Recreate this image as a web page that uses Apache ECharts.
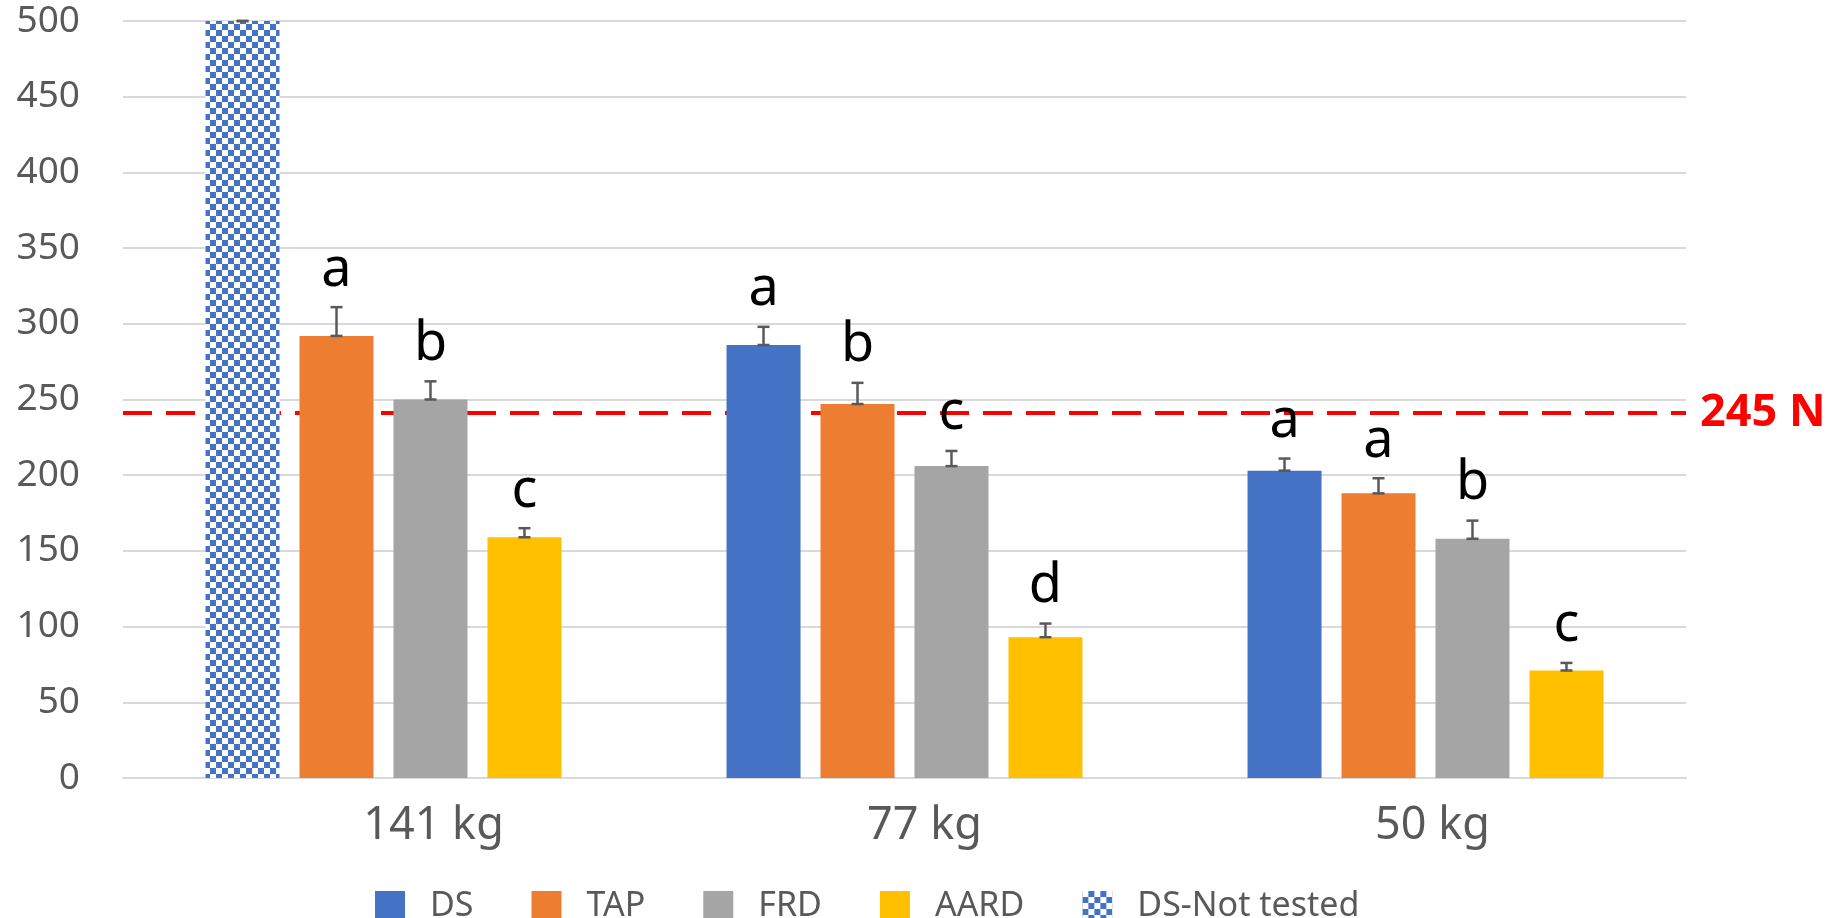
<!DOCTYPE html>
<html>
<head>
<meta charset="utf-8">
<script src="https://cdn.jsdelivr.net/npm/echarts@6/dist/echarts.min.js"></script>
<style>
  html, body { margin: 0; padding: 0; background: #ffffff; }
  #chart { width: 1831px; height: 918px; }
</style>
</head>
<body>
<div id="chart"></div>
<script>
// ---- data ----
const categories = ['141 kg', '77 kg', '50 kg'];
const yTicks = { min: 0, max: 500, interval: 50 };

const dsValues   = ['-', 286, 203];
const tapValues  = [292, 247, 188];
const frdValues  = [250, 206, 158];
const aardValues = [159, 93, 71];
const dsNotTestedValues = [500, '-', '-'];

const dsErr   = [null, 12, 8];
const tapErr  = [19, 14, 10];
const frdErr  = [12, 10, 12];
const aardErr = [6, 9, 5];
const dsNotTestedErr = [0, null, null];

const dsLetters   = ['', 'a', 'a'];
const tapLetters  = ['a', 'b', 'a'];
const frdLetters  = ['b', 'c', 'b'];
const aardLetters = ['c', 'd', 'c'];

const thresholdValue = 241;
const thresholdLabel = '245 N';

// ---- styling ----
const FONT = 'Noto Sans';
const BAR_W = 74;
const BAR_GAP = 0.27;
const PITCH = BAR_W * (1 + BAR_GAP);
const colors = { DS: '#4472C4', TAP: '#ED7D31', FRD: '#A5A5A5', AARD: '#FFC000' };
const catLabelShift = [100, 40, 14];

function errData(values, errs, letters) {
  const out = [];
  for (let i = 0; i < values.length; i++) {
    if (values[i] === '-' || errs[i] === null) continue;
    out.push([i, values[i], errs[i], letters ? letters[i] : '']);
  }
  return out;
}

function makeErrSeries(name, slot, values, errs, letters) {
  return {
    name: name,
    type: 'custom',
    z: 5,
    silent: true,
    clip: false,
    data: errData(values, errs, letters),
    renderItem: function (params, api) {
      const ci = api.value(0), v = api.value(1), e = api.value(2);
      const letter = letters ? letters[ci] : '';
      const base = api.coord([ci, v]);
      const top = api.coord([ci, v + e]);
      const x = base[0] + (slot - 1.5) * PITCH;
      const cap = 6;
      const style = { stroke: '#595959', lineWidth: 2.5 };
      const children = [
        { type: 'line', shape: { x1: x, y1: base[1], x2: x, y2: top[1] }, style: style },
        { type: 'line', shape: { x1: x - cap, y1: top[1], x2: x + cap, y2: top[1] }, style: style },
        { type: 'line', shape: { x1: x - cap, y1: base[1], x2: x + cap, y2: base[1] }, style: style }
      ];
      if (letter) {
        children.push({
          type: 'text',
          style: {
            x: x, y: top[1] - 10, text: letter,
            fill: '#000000', font: '54px "' + FONT + '"',
            align: 'center', verticalAlign: 'bottom'
          }
        });
      }
      return { type: 'group', children: children };
    }
  };
}

const chart = echarts.init(document.getElementById('chart'), null, { renderer: 'canvas' });

const rich = {};
catLabelShift.forEach(function (s, i) {
  rich['c' + i] = { padding: [0, 0, 0, s], fontSize: 45, color: '#595959', fontFamily: FONT };
});

const option = {
  animation: false,
  backgroundColor: '#ffffff',
  grid: { left: 123, right: 145, top: 21, bottom: 140, containLabel: false },
  legend: {
    left: 370, top: 884,
    itemWidth: 30, itemHeight: 30, itemGap: 58,
    data: ['DS', 'TAP', 'FRD', 'AARD', 'DS-Not tested'],
    textStyle: { fontFamily: FONT, fontSize: 34, color: '#595959', padding: [0, 0, 0, 20] },
    icon: 'rect'
  },
  xAxis: {
    type: 'category',
    data: categories,
    axisLine: { show: true, lineStyle: { color: '#d9d9d9', width: 2 } },
    axisTick: { show: false },
    axisLabel: {
      margin: 26,
      formatter: function (val, idx) { return '{c' + idx + '|' + val + '}'; },
      rich: rich
    }
  },
  yAxis: {
    type: 'value',
    min: yTicks.min, max: yTicks.max, interval: yTicks.interval,
    axisLine: { show: false },
    axisTick: { show: false },
    axisLabel: { color: '#595959', fontSize: 37, fontFamily: FONT, margin: 43 },
    splitLine: { lineStyle: { color: '#d9d9d9', width: 2 } }
  },
  series: [
    {
      name: 'threshold', type: 'line', data: ['-', '-', '-'], z: 1, silent: true,
      markLine: {
        z: 1,
        silent: true, symbol: ['none', 'none'],
        lineStyle: { color: '#ff0000', type: [29, 14], width: 4 },
        label: {
          show: true, position: 'end', formatter: thresholdLabel, distance: 14,
          color: '#ff0000', fontWeight: 'bold', fontSize: 45, fontFamily: FONT,
          padding: [0, 0, 46, 0]
        },
        data: [{ yAxis: thresholdValue }]
      }
    },
    { name: 'DS', type: 'bar', stack: 'ds', z: 3, barWidth: BAR_W, barGap: (BAR_GAP * 100) + '%',
      itemStyle: { color: colors.DS }, data: dsValues },
    { name: 'TAP', type: 'bar', z: 3, barWidth: BAR_W, barGap: (BAR_GAP * 100) + '%',
      itemStyle: { color: colors.TAP }, data: tapValues },
    { name: 'FRD', type: 'bar', z: 3, barWidth: BAR_W, barGap: (BAR_GAP * 100) + '%',
      itemStyle: { color: colors.FRD }, data: frdValues },
    { name: 'AARD', type: 'bar', z: 3, barWidth: BAR_W, barGap: (BAR_GAP * 100) + '%',
      itemStyle: { color: colors.AARD }, data: aardValues },
    { name: 'DS-Not tested', type: 'bar', stack: 'ds', z: 3, barWidth: BAR_W, barGap: (BAR_GAP * 100) + '%',
      itemStyle: {
        color: '#ffffff',
        decal: {
          symbol: 'rect', symbolSize: 1, color: '#4472C4',
          dashArrayX: [[6, 6], [0, 6, 6, 0]], dashArrayY: [6, 0]
        }
      },
      data: dsNotTestedValues },
    makeErrSeries('errDS', 0, dsValues, dsErr, dsLetters),
    makeErrSeries('errTAP', 1, tapValues, tapErr, tapLetters),
    makeErrSeries('errFRD', 2, frdValues, frdErr, frdLetters),
    makeErrSeries('errAARD', 3, aardValues, aardErr, aardLetters),
    makeErrSeries('errDSNT', 0, dsNotTestedValues, dsNotTestedErr, null)
  ]
};

chart.setOption(option);
</script>
</body>
</html>
